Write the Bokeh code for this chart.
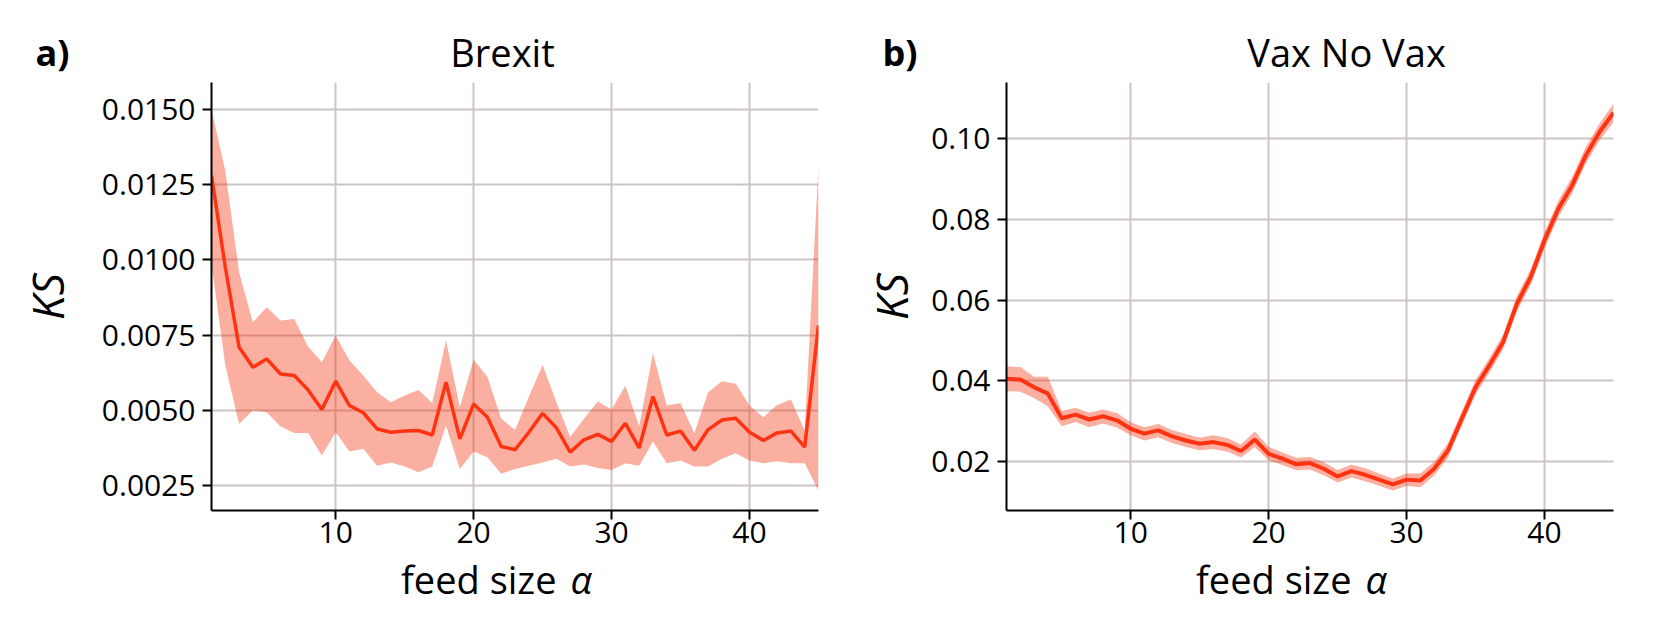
from bokeh.plotting import figure
from bokeh.models import Range1d, FixedTicker, PrintfTickFormatter, Label
from bokeh.layouts import row, column
from bokeh.embed import file_html
from bokeh.resources import INLINE

feed_size = list(range(1, 46))

brexit_mean = [0.01281, 0.00976, 0.00710, 0.00643, 0.00671, 0.00621, 0.00616, 0.00568, 0.00503, 0.00597,
               0.00516, 0.00492, 0.00438, 0.00427, 0.00431, 0.00433, 0.00418, 0.00594, 0.00405, 0.00521,
               0.00477, 0.00380, 0.00369, 0.00427, 0.00490, 0.00442, 0.00361, 0.00402, 0.00420, 0.00397,
               0.00457, 0.00375, 0.00546, 0.00418, 0.00431, 0.00367, 0.00436, 0.00468, 0.00474, 0.00427,
               0.00400, 0.00425, 0.00431, 0.00378, 0.00782]
brexit_upper = [0.01500, 0.01297, 0.00959, 0.00793, 0.00843, 0.00799, 0.00804, 0.00712, 0.00660, 0.00749,
                0.00666, 0.00616, 0.00560, 0.00527, 0.00549, 0.00568, 0.00524, 0.00732, 0.00510, 0.00668,
                0.00612, 0.00472, 0.00435, 0.00544, 0.00651, 0.00527, 0.00411, 0.00472, 0.00529, 0.00503,
                0.00582, 0.00447, 0.00690, 0.00516, 0.00524, 0.00424, 0.00560, 0.00597, 0.00588, 0.00516,
                0.00477, 0.00518, 0.00536, 0.00433, 0.01314]
brexit_lower = [0.00987, 0.00649, 0.00455, 0.00500, 0.00494, 0.00446, 0.00425, 0.00425, 0.00350, 0.00427,
                0.00363, 0.00372, 0.00316, 0.00327, 0.00313, 0.00294, 0.00313, 0.00450, 0.00305, 0.00363,
                0.00344, 0.00289, 0.00305, 0.00316, 0.00327, 0.00339, 0.00313, 0.00320, 0.00308, 0.00302,
                0.00324, 0.00316, 0.00396, 0.00324, 0.00333, 0.00313, 0.00313, 0.00339, 0.00357, 0.00333,
                0.00324, 0.00331, 0.00324, 0.00324, 0.00233]

vax_mean = [0.0405, 0.0403, 0.0384, 0.0368, 0.0307, 0.0316, 0.0304, 0.0312, 0.0302, 0.0281,
            0.0269, 0.0277, 0.0262, 0.0252, 0.0244, 0.0248, 0.0241, 0.0226, 0.0254, 0.0219,
            0.0207, 0.0193, 0.0196, 0.0182, 0.0163, 0.0176, 0.0167, 0.0155, 0.0143, 0.0155,
            0.0153, 0.0182, 0.0227, 0.0306, 0.0384, 0.0438, 0.0496, 0.0591, 0.0657, 0.0748,
            0.0826, 0.0884, 0.0959, 0.1017, 0.1064]
vax_upper = [0.0436, 0.0434, 0.0410, 0.0410, 0.0325, 0.0333, 0.0321, 0.0329, 0.0320, 0.0297,
             0.0285, 0.0293, 0.0278, 0.0268, 0.0259, 0.0265, 0.0258, 0.0242, 0.0274, 0.0236,
             0.0222, 0.0209, 0.0211, 0.0198, 0.0179, 0.0192, 0.0183, 0.0170, 0.0158, 0.0170,
             0.0170, 0.0199, 0.0245, 0.0324, 0.0402, 0.0456, 0.0514, 0.0610, 0.0676, 0.0768,
             0.0846, 0.0905, 0.0980, 0.1038, 0.1087]
vax_lower = [0.0374, 0.0373, 0.0357, 0.0336, 0.0287, 0.0298, 0.0285, 0.0294, 0.0284, 0.0265,
             0.0252, 0.0260, 0.0246, 0.0236, 0.0228, 0.0231, 0.0225, 0.0210, 0.0236, 0.0203,
             0.0191, 0.0178, 0.0180, 0.0166, 0.0148, 0.0160, 0.0151, 0.0140, 0.0128, 0.0140,
             0.0136, 0.0165, 0.0209, 0.0288, 0.0366, 0.0420, 0.0478, 0.0572, 0.0638, 0.0728,
             0.0806, 0.0864, 0.0939, 0.0996, 0.1041]

titles = ["Brexit", "Vax No Vax"]
letters = ["a)", "b)"]
x_label_text = "feed size"
x_label_symbol = "α"
y_label_text = "KS"
x_ticks = [10, 20, 30, 40]
brexit_yticks = [0.0025, 0.0050, 0.0075, 0.0100, 0.0125, 0.0150]
vax_yticks = [0.02, 0.04, 0.06, 0.08, 0.10]

FONT = "Open Sans"
LINE = "#FF3311"
BAND = "#F23711"
GRID = "#CDC5C5"
TOTAL_W = 1643
HEAD_H = 82
FOOT_H = 60


def make_panel(mean, upper, lower, yrange, yticks, yfmt,
               border_left, border_right, ks_standoff, lw):
    p = figure(x_range=Range1d(1, 45), y_range=Range1d(*yrange),
               frame_width=607, frame_height=428,
               min_border_left=border_left, min_border_right=border_right,
               min_border_top=0, min_border_bottom=40,
               output_backend="svg", toolbar_location=None)
    p.outline_line_color = None
    p.background_fill_color = "white"
    p.border_fill_color = "white"

    p.varea(x=feed_size, y1=lower, y2=upper, fill_color=BAND, fill_alpha=0.4)
    p.line(x=feed_size, y=mean, line_color=LINE, line_width=lw)

    for ax in (p.xaxis[0], p.yaxis[0]):
        ax.axis_line_color = "black"
        ax.axis_line_width = 2
        ax.major_tick_line_color = "black"
        ax.major_tick_line_width = 2
        ax.major_tick_out = 9
        ax.major_tick_in = 0
        ax.minor_tick_line_color = None
        ax.major_label_text_font = FONT
        ax.major_label_text_font_size = "30px"
        ax.major_label_text_color = "black"
    p.xaxis.ticker = FixedTicker(ticks=x_ticks)
    p.yaxis.ticker = FixedTicker(ticks=yticks)
    p.yaxis.formatter = PrintfTickFormatter(format=yfmt)
    p.xaxis.major_label_standoff = 2
    p.yaxis.major_label_standoff = 7

    p.yaxis.axis_label = y_label_text
    p.yaxis.axis_label_text_font = FONT
    p.yaxis.axis_label_text_font_size = "44px"
    p.yaxis.axis_label_text_font_style = "italic"
    p.yaxis.axis_label_text_color = "black"
    p.yaxis.axis_label_standoff = ks_standoff

    for g in (p.xgrid[0], p.ygrid[0]):
        g.grid_line_color = GRID
        g.grid_line_width = 2
    return p


def text_strip(height, items, baseline):
    s = figure(x_range=Range1d(0, TOTAL_W), y_range=Range1d(0, height),
               frame_width=TOTAL_W, frame_height=height,
               min_border=0, x_axis_type=None, y_axis_type=None,
               output_backend="svg", toolbar_location=None)
    s.outline_line_color = None
    s.grid.visible = False
    s.background_fill_color = "white"
    s.border_fill_color = "white"
    for (x, y, txt, size, style, align) in items:
        s.add_layout(Label(x=x, y=y, text=txt, text_font=FONT, text_font_size=size,
                           text_font_style=style, text_align=align,
                           text_baseline=baseline, text_color="black"))
    return s


pa = make_panel(brexit_mean, brexit_upper, brexit_lower,
                (0.00167, 0.0159), brexit_yticks, "%.4f",
                211, 20, 22, 3.5)
pb = make_panel(vax_mean, vax_upper, vax_lower,
                (0.00785, 0.1139), vax_yticks, "%.2f",
                168, 30, 7, 4)

header = text_strip(HEAD_H, [
    (35, 30, letters[0], "36px", "bold", "left"),
    (502, 31, titles[0], "38px", "normal", "center"),
    (882, 30, letters[1], "36px", "bold", "left"),
    (1346, 31, titles[1], "38px", "normal", "center"),
], "alphabetic")
footer = text_strip(FOOT_H, [
    (556, 58, x_label_text, "38px", "normal", "right"),
    (570, 58, x_label_symbol, "38px", "italic", "left"),
    (1351, 58, x_label_text, "38px", "normal", "right"),
    (1365, 58, x_label_symbol, "38px", "italic", "left"),
], "top")

layout = column(header, row(pa, pb), footer)
open("out.html", "w").write(file_html(layout, INLINE))
